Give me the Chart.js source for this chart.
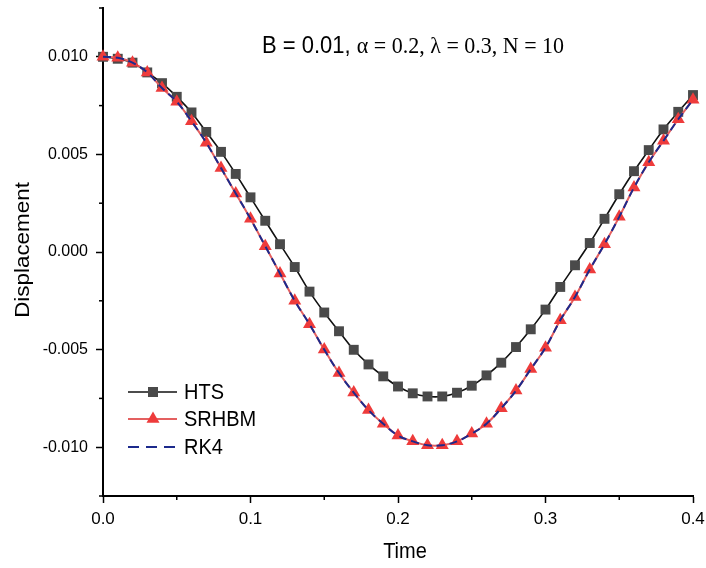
<!DOCTYPE html>
<html lang="en">
<head>
<meta charset="UTF-8" />
<title>Displacement vs Time</title>
<script src="https://cdn.jsdelivr.net/npm/chart.js"></script>
<style>
  html, body { margin: 0; padding: 0; background: #fff; }
  .chart-box { position: relative; width: 706px; height: 568px; }
</style>
</head>
<body>
<div class="chart-box"><canvas id="chart"></canvas></div>
<script>
  // values
  const times = [0.00, 0.01, 0.02, 0.03, 0.04, 0.05, 0.06, 0.07, 0.08, 0.09,
                 0.10, 0.11, 0.12, 0.13, 0.14, 0.15, 0.16, 0.17, 0.18, 0.19,
                 0.20, 0.21, 0.22, 0.23, 0.24, 0.25, 0.26, 0.27, 0.28, 0.29,
                 0.30, 0.31, 0.32, 0.33, 0.34, 0.35, 0.36, 0.37, 0.38, 0.39, 0.40];

  const htsValues = [0.0100, 0.0099, 0.0097, 0.0092, 0.00865, 0.00795, 0.00715, 0.00615, 0.00513, 0.0040,
                     0.0028, 0.0016, 0.0004, -0.00077, -0.00203, -0.0031, -0.00406, -0.00501, -0.00576, -0.00637,
                     -0.00689, -0.00724, -0.0074, -0.0074, -0.00721, -0.00685, -0.00632, -0.00567, -0.00487, -0.00396,
                     -0.00295, -0.00179, -0.00068, 0.00046, 0.0017, 0.00296, 0.00414, 0.00522, 0.00628, 0.00718, 0.00804];

  const srhbmValues = [0.0100, 0.00995, 0.0097, 0.0092, 0.0084, 0.0077, 0.0067, 0.0056, 0.0043, 0.0030,
                       0.0017, 0.0003, -0.0011, -0.0025, -0.0037, -0.0050, -0.0062, -0.0072, -0.0081, -0.0088,
                       -0.0094, -0.0097, -0.0099, -0.0099, -0.0097, -0.0093, -0.0088, -0.0080, -0.0071, -0.0060,
                       -0.0049, -0.0035, -0.0023, -0.0009, 0.0004, 0.0018, 0.0033, 0.0046, 0.0057, 0.0068, 0.0078];

  const rk4Values = [0.0100, 0.00995, 0.0097, 0.0092, 0.0084, 0.0077, 0.0067, 0.0056, 0.0043, 0.0030,
                     0.0017, 0.0003, -0.0011, -0.0025, -0.0037, -0.0050, -0.0062, -0.0072, -0.0081, -0.0088,
                     -0.0094, -0.0097, -0.0099, -0.0099, -0.0097, -0.0093, -0.0088, -0.0080, -0.0071, -0.0060,
                     -0.0049, -0.0035, -0.0023, -0.0009, 0.0004, 0.0018, 0.0033, 0.0046, 0.0057, 0.0068, 0.0078];

  const xMajorTicks = [0.0, 0.1, 0.2, 0.3, 0.4];
  const yMajorTicks = [-0.010, -0.005, 0.000, 0.005, 0.010];

  const seriesNames = ['HTS', 'SRHBM', 'RK4'];
  const titleParts = ['B = 0.01, ', '\u03b1 = 0.2, \u03bb = 0.3, N = 10'];

  const toPoints = vals => times.map((t, i) => ({ x: t, y: vals[i] }));
  const isMajor = (v, list) => list.some(m => Math.abs(m - v) < 1e-9);

  const SANS = '"Liberation Sans", Arial, sans-serif';
  const SERIF = '"Liberation Serif", "Times New Roman", serif';

  // stretched text, the figure's lettering is a bit taller than wide
  function stretchText(ctx, text, x, y, font, sy) {
    ctx.save();
    ctx.translate(x, y);
    ctx.scale(1, sy);
    ctx.font = font;
    ctx.fillText(text, 0, 0);
    ctx.restore();
  }

  const extrasPlugin = {
    id: 'extras',
    afterDraw(chart) {
      const ctx = chart.ctx;
      const xs = chart.scales.x, ys = chart.scales.y;
      const area = chart.chartArea;

      // minor ticks
      ctx.save();
      ctx.strokeStyle = '#000';
      ctx.lineWidth = 1.5;
      xs.ticks.forEach(t => {
        if (isMajor(t.value, xMajorTicks)) return;
        const px = xs.getPixelForValue(t.value);
        ctx.beginPath(); ctx.moveTo(px, area.bottom); ctx.lineTo(px, area.bottom + 4); ctx.stroke();
      });
      ys.ticks.forEach(t => {
        if (isMajor(t.value, yMajorTicks)) return;
        const py = ys.getPixelForValue(t.value);
        ctx.beginPath(); ctx.moveTo(area.left, py); ctx.lineTo(area.left - 4, py); ctx.stroke();
      });
      ctx.restore();

      // header text
      ctx.save();
      ctx.fillStyle = '#000';
      ctx.textBaseline = 'alphabetic';
      ctx.textAlign = 'left';
      ctx.font = '22px ' + SANS;
      const w1 = ctx.measureText(titleParts[0]).width;
      stretchText(ctx, titleParts[0], 262, 53, '22px ' + SANS, 1.08);
      stretchText(ctx, titleParts[1], 262 + w1, 53, '22px ' + SERIF, 1.08);
      ctx.restore();

      // axis titles
      ctx.save();
      ctx.fillStyle = '#000';
      ctx.textAlign = 'center';
      ctx.textBaseline = 'middle';
      stretchText(ctx, 'Time', 405, 552, '20px ' + SANS, 1.1);
      ctx.translate(23, 250);
      ctx.rotate(-Math.PI / 2);
      ctx.scale(1.12, 1);
      ctx.font = '20px ' + SANS;
      ctx.fillText('Displacement', 0, 0);
      ctx.restore();

      // legend
      const rows = [392, 419, 447];
      const x0 = 128, x1 = 177, xm = 153;
      ctx.save();
      chart.data.datasets.forEach((ds, i) => {
        const y = rows[i];
        ctx.strokeStyle = ds.borderColor;
        ctx.lineWidth = ds.borderWidth;
        ctx.setLineDash(ds.borderDash ? [11, 7] : []);
        ctx.beginPath(); ctx.moveTo(x0, y); ctx.lineTo(x1, y); ctx.stroke();
        ctx.setLineDash([]);
        ctx.fillStyle = ds.pointBackgroundColor;
        if (ds.pointStyle === 'rect') {
          ctx.fillRect(xm - 5, y - 5, 10, 10);
        } else if (ds.pointStyle === 'triangle') {
          const r = ds.pointRadius;
          ctx.beginPath();
          ctx.moveTo(xm, y - r);
          ctx.lineTo(xm + r * 0.866, y + r / 2);
          ctx.lineTo(xm - r * 0.866, y + r / 2);
          ctx.closePath(); ctx.fill();
        }
        ctx.fillStyle = '#000';
        ctx.textAlign = 'left';
        ctx.textBaseline = 'middle';
        stretchText(ctx, ds.label, 184, y + 1, '20px ' + SANS, 1.1);
      });
      ctx.restore();
    }
  };

  new Chart(document.getElementById('chart'), {
    type: 'line',
    data: {
      datasets: [
        {
          label: seriesNames[0],
          data: toPoints(htsValues),
          borderColor: '#111111',
          borderWidth: 1.6,
          pointStyle: 'rect',
          pointRadius: 7,
          pointBackgroundColor: '#4a4a4a',
          pointBorderColor: '#4a4a4a',
          pointBorderWidth: 0,
          tension: 0.4,
          order: 3,
          clip: false
        },
        {
          label: seriesNames[1],
          data: toPoints(srhbmValues),
          borderColor: '#e46060',
          borderWidth: 2,
          pointStyle: 'triangle',
          pointRadius: 7.5,
          pointBackgroundColor: '#ee3b3b',
          pointBorderColor: '#ee3b3b',
          pointBorderWidth: 0,
          tension: 0.4,
          order: 2,
          clip: false
        },
        {
          label: seriesNames[2],
          data: toPoints(rk4Values),
          borderColor: '#1c2a8c',
          borderWidth: 2,
          borderDash: [8, 5],
          pointRadius: 0,
          tension: 0.4,
          order: 1,
          clip: false
        }
      ]
    },
    options: {
      responsive: true,
      maintainAspectRatio: false,
      animation: false,
      layout: { padding: { left: 0, top: 8, right: 13, bottom: 0 } },
      plugins: {
        legend: { display: false },
        tooltip: { enabled: false }
      },
      scales: {
        x: {
          type: 'linear',
          min: 0,
          max: 0.4,
          afterFit: s => { s.height = 72; s.paddingLeft = 0; s.paddingRight = 0; },
          border: { display: true, color: '#000', width: 2 },
          grid: {
            drawOnChartArea: false,
            drawTicks: true,
            tickLength: 7,
            tickWidth: 1.5,
            tickColor: c => isMajor(c.tick.value, xMajorTicks) ? '#000' : 'rgba(0,0,0,0)'
          },
          ticks: {
            stepSize: 0.05,
            padding: 6,
            color: '#000',
            font: { family: SANS, size: 17 },
            maxRotation: 0,
            autoSkip: false,
            callback: v => isMajor(v, xMajorTicks) ? v.toFixed(1) : ''
          }
        },
        y: {
          type: 'linear',
          min: -0.0125,
          max: 0.0125,
          afterFit: s => { s.width = 103; s.paddingTop = 0; s.paddingBottom = 0; },
          border: { display: true, color: '#000', width: 2 },
          grid: {
            drawOnChartArea: false,
            drawTicks: true,
            tickLength: 7,
            tickWidth: 1.5,
            tickColor: c => isMajor(c.tick.value, yMajorTicks) ? '#000' : 'rgba(0,0,0,0)'
          },
          ticks: {
            stepSize: 0.0025,
            padding: 8,
            color: '#000',
            font: { family: SANS, size: 16 },
            autoSkip: false,
            callback: v => {
              if (!isMajor(v, yMajorTicks)) return '';
              return Math.abs(v) < 1e-9 ? '0.000' : v.toFixed(3);
            }
          }
        }
      }
    },
    plugins: [extrasPlugin]
  });
</script>
</body>
</html>
